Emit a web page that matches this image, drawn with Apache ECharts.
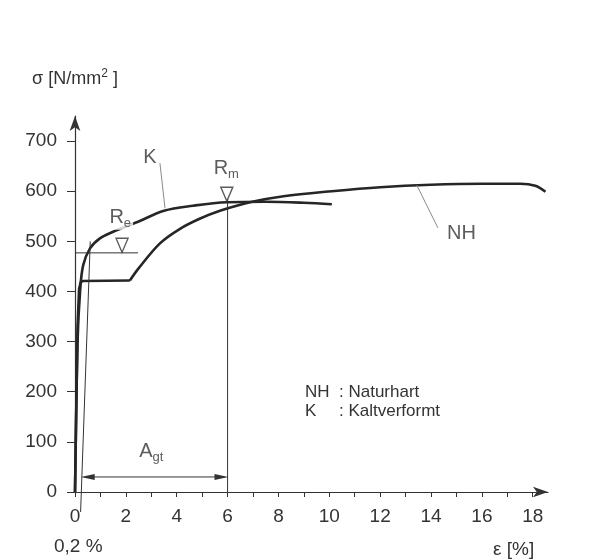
<!DOCTYPE html>
<html>
<head>
<meta charset="utf-8">
<script src="https://cdn.jsdelivr.net/npm/echarts@6/dist/echarts.min.js"></script>
<style>
  html, body { margin: 0; background: #fff; }
  #chart { width: 593px; height: 560px; }
</style>
</head>
<body>
<div id="chart"></div>
<script>
// tick values and labels
var xTicks = [0,1,2,3,4,5,6,7,8,9,10,11,12,13,14,15,16,17,18];
var xLabels = [0,2,4,6,8,10,12,14,16,18];
var yTicks = [0,100,200,300,400,500,600,700];

// NH : Naturhart  (strain %, stress N/mm2)
var nhElastic = [[0,0],[0.1,330],[0.16,405],[0.22,418],[0.3,421],[2.16,422]];
var nhCurve = [[2.16,422],[2.5,446],[3.34,496],[4.13,525],[4.9,545],
  [5.7,561],[6.88,578],[8.2,590],[10.1,600],[12,608],[14,613],[16,615],
  [17.5,615],[18.1,611],[18.5,599]];

// K : Kaltverformt
var kCurve = [[0,0],[0.1,300],[0.2,400],[0.32,452],[0.59,486],
  [0.98,506],[1.5,519],[2.48,539],[3.5,561],[4.64,571],[5.97,578],
  [7.5,579],[9.0,577],[10.1,574]];

var reLine = [[0,477],[2.48,477]];
var offsetLine = [[0.22,-40],[0.6,500]];
var rmLine = [[6,0],[6,586]];
var kPointer = [[3.34,656],[3.54,566]];
var nhPointer = [[13.44,612],[14.27,527]];
var agtArrow = [[0.5,30],[5.76,30]];
var markers = [[1.85,492],[5.97,594]];   // Re, Rm triangles
var annotations = [
  ['K', 2.95, 668],
  ['R{sub|m}', 5.95, 645],
  ['R{sub|e}', 1.78, 548],
  ['NH', 15.2, 516],
  ['A{sub|gt}', 3.0, 80]
];

var ink = '#262626';
var txt = '#333';
var font = 'Liberation Sans, Arial, sans-serif';

function thin(data, color) {
  return {
    type: 'line', data: data, showSymbol: false, silent: true, clip: false,
    lineStyle: { color: color || '#333', width: 1 }
  };
}

function thick(data, smooth) {
  return {
    type: 'line', data: data, smooth: smooth, showSymbol: false, silent: true,
    lineStyle: { color: ink, width: 2.6, join: 'round' }
  };
}

var option = {
  animation: false,
  textStyle: { fontFamily: font },
  grid: { left: 75, right: 45, top: 116, bottom: 68, outerBoundsMode: 'none' },
  xAxis: {
    type: 'value', min: 0, max: 18.6,
    axisLine: { lineStyle: { color: '#333', width: 1.2 }, symbol: ['none', 'arrow'], symbolSize: [8, 15] },
    axisTick: { length: 5, lineStyle: { color: '#333' }, customValues: xTicks },
    axisLabel: { fontSize: 19, color: txt, margin: 15, customValues: xLabels },
    splitLine: { show: false }
  },
  yAxis: {
    type: 'value', min: 0, max: 750,
    name: 'σ [N/mm{sup|2} ]', nameLocation: 'end', nameGap: 26,
    nameTextStyle: {
      fontSize: 18, color: txt, align: 'center',
      rich: { sup: { fontSize: 12, color: txt, padding: [0, 0, 10, 0] } }
    },
    axisLine: { lineStyle: { color: '#333', width: 1.2 }, symbol: ['none', 'arrow'], symbolSize: [8, 15] },
    axisTick: { length: 8, lineStyle: { color: '#333' }, customValues: yTicks },
    axisLabel: { fontSize: 19, color: txt, margin: 18, customValues: yTicks },
    splitLine: { show: false }
  },
  graphic: [
    { type: 'text', left: 305, top: 384, style: { text: 'NH', font: '17px ' + font, fill: txt } },
    { type: 'text', left: 339, top: 384, style: { text: ': Naturhart', font: '17px ' + font, fill: txt } },
    { type: 'text', left: 305, top: 403, style: { text: 'K', font: '17px ' + font, fill: txt } },
    { type: 'text', left: 339, top: 403, style: { text: ': Kaltverformt', font: '17px ' + font, fill: txt } },
    { type: 'text', left: 54, top: 537, style: { text: '0,2 %', font: '19px ' + font, fill: txt } },
    { type: 'text', left: 493, top: 540, style: { text: 'ε [%]', font: '19px ' + font, fill: txt } }
  ],
  series: [
    thick(nhElastic, false),
    thick(nhCurve, 0.35),
    thick(kCurve, 0.35),
    thin(reLine),
    thin(offsetLine),
    thin(rmLine),
    thin(kPointer, '#8a8a8a'),
    thin(nhPointer, '#8a8a8a'),
    {
      type: 'line', silent: true, showSymbol: true,
      data: [
        { value: agtArrow[0], symbolRotate: 90 },
        { value: agtArrow[1], symbolRotate: -90 }
      ],
      symbol: 'triangle', symbolSize: [6, 14],
      itemStyle: { color: '#333' },
      lineStyle: { color: '#333', width: 1 }
    },
    {
      type: 'scatter', data: markers, symbol: 'triangle', symbolRotate: 180,
      symbolSize: [12, 14], silent: true, z: 4,
      itemStyle: { color: '#fff', borderColor: '#333', borderWidth: 1.4 }
    },
    {
      type: 'scatter', silent: true, z: 5, symbolSize: 0,
      data: annotations.map(function (a) { return { value: [a[1], a[2]], text: a[0] }; }),
      label: {
        show: true, position: 'inside', fontSize: 20, color: txt,
        backgroundColor: '#fff', padding: [0, 2],
        formatter: function (p) { return p.data.text; },
        rich: { sub: { fontSize: 13, color: txt, padding: [12, 0, 0, 0] } }
      }
    }
  ]
};

var chart = echarts.init(document.getElementById('chart'));
chart.setOption(option);
</script>
</body>
</html>
